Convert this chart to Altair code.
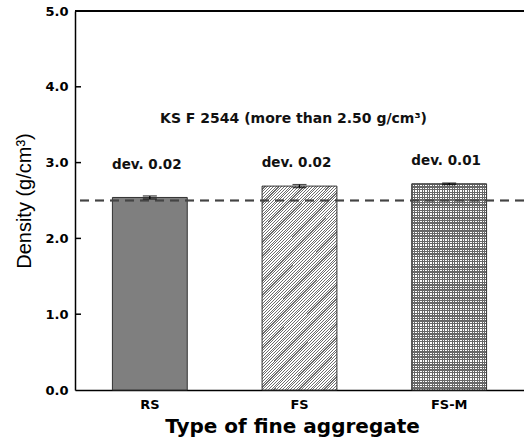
import altair as alt
import pandas as pd

# ---- data ----
categories = ["RS", "FS", "FS-M"]
density = [2.54, 2.69, 2.72]
deviation = [0.02, 0.02, 0.01]
dev_labels = ["dev. 0.02", "dev. 0.02", "dev. 0.01"]
dev_label_y = [2.97, 3.00, 3.02]
y_ticks = [0.0, 1.0, 2.0, 3.0, 4.0, 5.0]
standard_value = 2.50
standard_text = "KS F 2544 (more than 2.50 g/cm³)"
standard_text_y = 3.58

df = pd.DataFrame({
    "cat": categories,
    "density": density,
    "dev": deviation,
    "label": dev_labels,
    "label_y": dev_label_y,
})
df["lo"] = df["density"] - df["dev"]
df["hi"] = df["density"] + df["dev"]

FONT = "DejaVu Sans"

def stripes(n, frac, line, gap):
    stops = []
    for k in range(n):
        a = k / n
        b = (k + frac) / n
        c = (k + 1) / n
        stops += [
            {"offset": a, "color": line},
            {"offset": b, "color": line},
            {"offset": b, "color": gap},
            {"offset": c, "color": gap},
        ]
    return stops

# diagonal hatch "/" for FS (objectBoundingBox space)
w, h = 75.0, 204.0
k = (w + h) / (w * w + h * h)
diag_fill = {
    "gradient": "linear", "x1": 0, "y1": 0, "x2": k * w, "y2": k * h,
    "stops": stripes(100, 0.4, "#6e6e6e", "#ffffff"),
}
vert_fill = {
    "gradient": "linear", "x1": 0, "y1": 0, "x2": 1, "y2": 0,
    "stops": stripes(30, 0.5, "#686868", "#ffffff"),
}
horiz_fill = {
    "gradient": "linear", "x1": 0, "y1": 0, "x2": 0, "y2": 1,
    "stops": stripes(80, 0.5, "#686868", "rgba(255,255,255,0)"),
}

x_enc = alt.X(
    "cat:N", sort=categories,
    scale=alt.Scale(paddingInner=0.5, paddingOuter=0.25),
    axis=alt.Axis(
        title="Type of fine aggregate", labelAngle=0, tickSize=0,
        domainColor="black", domainWidth=1.5,
        labelFont=FONT, labelFontWeight="bold", labelFontSize=13, labelColor="black",
        labelPadding=8,
        titleFont=FONT, titleFontWeight="bold", titleFontSize=20, titleColor="black",
        titlePadding=5, titleX=217, titleAnchor="middle",
    ),
)
y_scale = alt.Scale(domain=[0, 5], nice=False, zero=True)
y_enc = alt.Y(
    "density:Q", scale=y_scale,
    axis=alt.Axis(
        title="Density (g/cm³)", values=y_ticks, format=".1f", tickSize=0,
        grid=False, domainColor="black", domainWidth=1.5,
        labelFont=FONT, labelFontWeight="bold", labelFontSize=13, labelColor="black",
        labelPadding=7,
        titleFont="Liberation Sans", titleFontWeight="normal", titleFontSize=20,
        titleColor="black", titlePadding=10,
    ),
)

base = alt.Chart(df)
bar_style = dict(stroke="#333333", strokeWidth=1)

rs_bar = base.transform_filter(alt.datum.cat == "RS").mark_bar(
    fill="#7f7f7f", **bar_style).encode(x=x_enc, y=y_enc)
fs_bar = base.transform_filter(alt.datum.cat == "FS").mark_bar(
    fill=diag_fill, **bar_style).encode(x=x_enc, y=y_enc)
fsm_bar1 = base.transform_filter(alt.datum.cat == "FS-M").mark_bar(
    fill=vert_fill, strokeWidth=0).encode(x=x_enc, y=y_enc)
fsm_bar2 = base.transform_filter(alt.datum.cat == "FS-M").mark_bar(
    fill=horiz_fill, **bar_style).encode(x=x_enc, y=y_enc)

dash = base.mark_rule(color="#444444", strokeWidth=1.5, strokeDash=[9, 6]).encode(
    y=alt.datum(standard_value))

err_rule = base.mark_rule(color="black", strokeWidth=1.3).encode(
    x=alt.X("cat:N", sort=categories), y=alt.Y("lo:Q", scale=y_scale), y2="hi:Q")
err_lo = base.mark_tick(color="black", size=14, thickness=1.3).encode(
    x=alt.X("cat:N", sort=categories), y=alt.Y("lo:Q", scale=y_scale))
err_hi = base.mark_tick(color="black", size=14, thickness=1.3).encode(
    x=alt.X("cat:N", sort=categories), y=alt.Y("hi:Q", scale=y_scale))

dev_text = base.mark_text(font=FONT, fontWeight="bold", fontSize=13.5,
                          color="#111111", baseline="middle", dx=-3).encode(
    x=alt.X("cat:N", sort=categories), y=alt.Y("label_y:Q", scale=y_scale),
    text="label:N")

std_df = pd.DataFrame({"cat": ["FS"], "y": [standard_text_y], "t": [standard_text]})
std_text = alt.Chart(std_df).mark_text(font=FONT, fontWeight="bold", fontSize=14,
                                       color="#111111", baseline="middle", dx=-6).encode(
    x=alt.X("cat:N", sort=categories), y=alt.Y("y:Q", scale=y_scale), text="t:N")

top_line = base.mark_rule(color="black", strokeWidth=1.5).encode(y=alt.datum(5.0))

tick_df = pd.DataFrame({"v": y_ticks[1:-1]})
inner_ticks = alt.Chart(tick_df).mark_rule(color="black", strokeWidth=1.5).encode(
    y=alt.Y("v:Q", scale=y_scale), x=alt.value(0), x2=alt.value(6))

chart = alt.layer(
    rs_bar, fs_bar, fsm_bar1, fsm_bar2, dash, err_rule, err_lo, err_hi,
    dev_text, std_text, top_line, inner_ticks,
).properties(
    width=449, height=379,
    autosize=alt.AutoSizeParams(type="none"),
    padding={"left": 75, "top": 11, "right": 0, "bottom": 51},
).configure_view(stroke=None).configure(background="white")

chart.save("out.html", embed_options={"renderer": "svg", "actions": False})
